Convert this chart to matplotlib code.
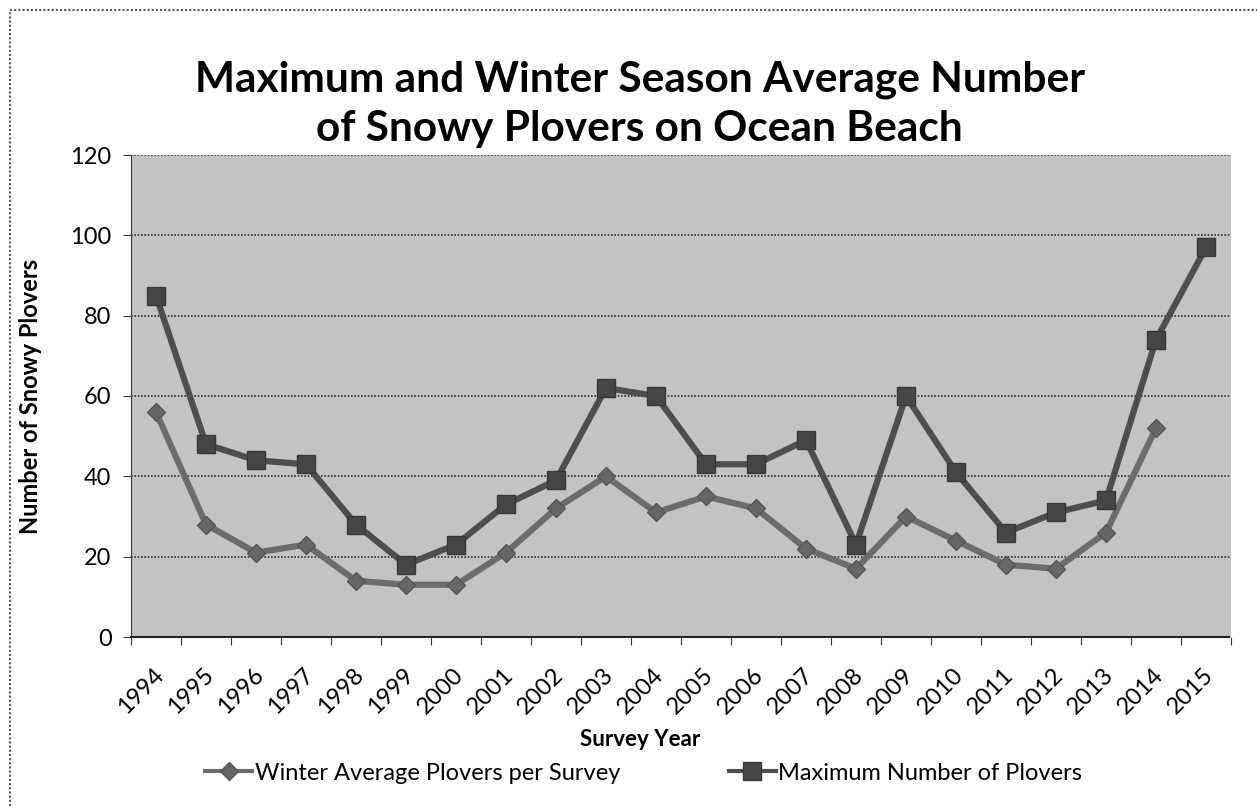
import matplotlib
matplotlib.use("Agg")
import matplotlib.pyplot as plt
from matplotlib.lines import Line2D
import numpy as np

years = [str(y) for y in range(1994, 2016)]
winter_avg = [56, 28, 21, 23, 14, 13, 13, 21, 32, 40, 31, 35, 32, 22, 17, 30, 24, 18, 17, 26, 52, None]
maximum = [85, 48, 44, 43, 28, 18, 23, 33, 39, 62, 60, 43, 43, 49, 23, 60, 41, 26, 31, 34, 74, 97]
y_ticks = [0, 20, 40, 60, 80, 100, 120]

FONT = "Lato"
plt.rcParams["font.family"] = [FONT, "DejaVu Sans"]

fig = plt.figure(figsize=(12.57, 8.06), dpi=100)
fig.patch.set_facecolor("white")

W, H = 1257, 806
ax = fig.add_axes([131 / W, (H - 637) / H, 1100 / W, 482 / H])
ax.set_facecolor("#c3c3c3")

x = np.arange(len(years))
w = np.array([np.nan if v is None else v for v in winter_avg], dtype=float)
m = np.array(maximum, dtype=float)

winter_style = dict(color="#6c6c6c", lw=4.5, marker="D", ms=9,
                    markerfacecolor="#666666", markeredgecolor="#555555")
max_style = dict(color="#4e4e4e", lw=4.5, marker="s", ms=12.5,
                 markerfacecolor="#464646", markeredgecolor="#383838")

ax.plot(x, w, zorder=3, **winter_style)
ax.plot(x, m, zorder=4, **max_style)

ax.set_xlim(-0.5, len(years) - 0.5)
ax.set_ylim(0, 120)
ax.set_yticks(y_ticks)
ax.set_yticklabels([str(t) for t in y_ticks], fontsize=17)
ax.yaxis.grid(True, color="#333333", ls=(0, (1, 1)), lw=1.2)
ax.set_axisbelow(True)
ax.tick_params(axis="y", length=6, color="#333333", pad=8)

ax.set_xticks(np.arange(-0.5, len(years), 1.0))
ax.set_xticklabels([])
ax.tick_params(axis="x", length=6, color="#333333", direction="out")
for i, lab in enumerate(years):
    ax.annotate(lab, xy=(i, 0), xycoords=("data", "axes fraction"),
                xytext=(3, -25), textcoords="offset points",
                rotation=45, ha="right", va="center", rotation_mode="anchor",
                fontsize=17)

for s in ["top", "right"]:
    ax.spines[s].set_visible(False)
ax.spines["left"].set_linestyle((0, (1, 1)))
ax.spines["left"].set_color("#333333")
ax.spines["bottom"].set_linestyle((0, (1, 1)))
ax.spines["bottom"].set_color("#222222")
ax.spines["bottom"].set_linewidth(1.5)

ax.set_ylabel("Number of Snowy Plovers", fontsize=17, fontweight="bold")
ax.yaxis.set_label_coords(-0.081, 0.5)

fig.text(0.509, 1 - 80 / H, "Maximum and Winter Season Average Number",
         ha="center", va="center", fontsize=30.5, fontweight="bold")
fig.text(0.509, 1 - 129 / H, "of Snowy Plovers on Ocean Beach",
         ha="center", va="center", fontsize=30.5, fontweight="bold")

fig.text(0.509, 1 - 740 / H, "Survey Year", ha="center", va="center",
         fontsize=16, fontweight="bold")

handles = [
    Line2D([], [], **dict(winter_style, lw=3)),
    Line2D([], [], **dict(max_style, lw=3)),
]
fig.legend(handles, ["Winter Average Plovers per Survey", "Maximum Number of Plovers"],
           loc="center", bbox_to_anchor=(0.512, 1 - 773 / H), ncol=2,
           frameon=False, fontsize=17, handlelength=2.0, handletextpad=0.1,
           columnspacing=4.6)

# outer chart frame (left and top edges)
frame_kw = dict(color="#555555", lw=1.5, ls=(0, (1, 1)))
fig.add_artist(Line2D([10 / W, 10 / W], [0, 1 - 10 / H], transform=fig.transFigure, **frame_kw))
fig.add_artist(Line2D([10 / W, 1], [1 - 10 / H, 1 - 10 / H], transform=fig.transFigure, **frame_kw))

fig.savefig("out.png", dpi=100)
